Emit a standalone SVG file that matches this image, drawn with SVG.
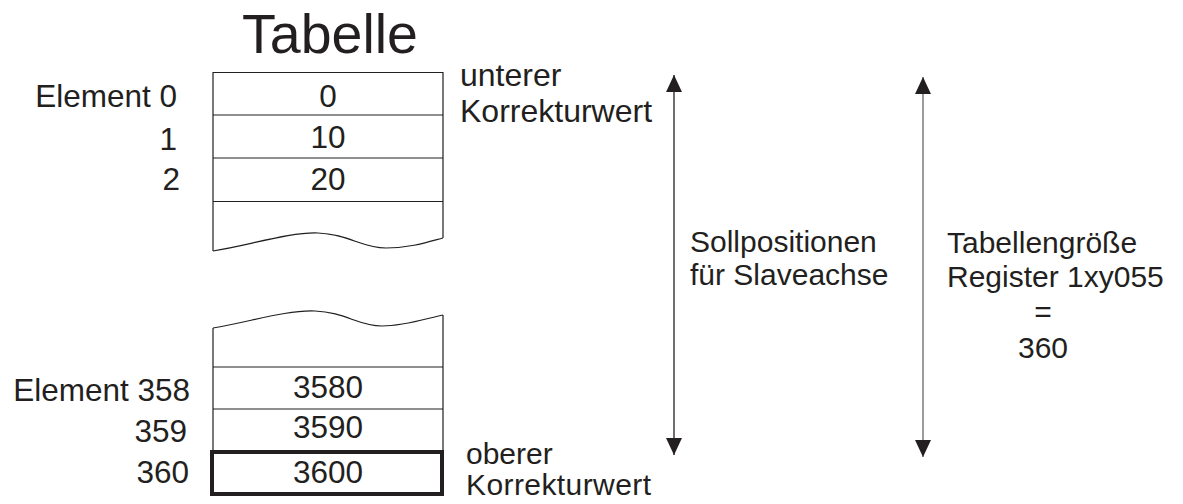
<svg xmlns="http://www.w3.org/2000/svg" width="1183" height="504" viewBox="0 0 1183 504">
<style>
text{font-family:"Liberation Sans",Arial,sans-serif;font-size:30px;fill:#231f20}
.c{text-anchor:middle}
.e{text-anchor:end}
.big{font-size:31.5px}
.kw{font-size:32px}
.kw2{font-size:30px}
.t{fill:none;stroke:#231f20;stroke-width:1.2}
.thick{fill:none;stroke:#231f20;stroke-width:4}
</style>
<defs>
<marker id="ah" viewBox="0 0 17 16" refX="17" refY="8" markerWidth="17" markerHeight="16" markerUnits="userSpaceOnUse" orient="auto-start-reverse">
<path d="M0,0 L17,8 L0,16 z" fill="#231f20"/>
</marker>
</defs>
<rect width="1183" height="504" fill="#fff"/>
<g id="title"><text x="330" y="53" class="c" style="font-size:55.5px">Tabelle</text></g>
<g id="table-top">
<path class="t" d="M213,251 L213,72.5 L443,72.5 L443,238"/>
<path class="t" d="M213,115 H443 M213,158 H443 M213,201.5 H443"/>
<path class="t" d="M213,251 C250,245 290,232 318,233 C348,234 362,248 386,248 C410,248 428,242 443,238"/>
<text x="328" y="107" class="c big">0</text>
<text x="328" y="148" class="c big">10</text>
<text x="328" y="190" class="c big">20</text>
</g>
<g id="table-bottom">
<path class="t" d="M213,328 C250,322 285,310 315,311 C345,312 358,326 382,326 C405,326 428,318 443,315"/>
<path class="t" d="M213,328 V452 M443,315 V452"/>
<path class="t" d="M213,367 H443 M213,409 H443"/>
<rect class="thick" x="212" y="452" width="230" height="42"/>
<text x="328" y="398" class="c big">3580</text>
<text x="328" y="438" class="c big">3590</text>
<text x="328" y="483" class="c big">3600</text>
</g>
<g id="labels-left">
<text x="177" y="107" class="e big">Element 0</text>
<text x="177" y="150" class="e big">1</text>
<text x="180" y="190" class="e big">2</text>
<text x="190" y="401" class="e big">Element 358</text>
<text x="187" y="442" class="e big">359</text>
<text x="189" y="483" class="e big">360</text>
</g>
<g id="label-lower">
<text x="460" y="86" class="kw">unterer</text>
<text x="460" y="122" class="kw">Korrekturwert</text>
</g>
<g id="label-upper">
<text x="466" y="464" class="kw2">oberer</text>
<text x="466" y="495" class="kw2" textLength="185">Korrekturwert</text>
</g>
<g id="label-soll">
<text x="690" y="252">Sollpositionen</text>
<text x="690" y="285">für Slaveachse</text>
</g>
<g id="label-size">
<text x="947" y="253">Tabellengröße</text>
<text x="947" y="287">Register 1xy055</text>
<text x="1043" y="322" class="c">=</text>
<text x="1043" y="358" class="c">360</text>
</g>
<g id="connectors">
<line x1="674" y1="75" x2="674" y2="455" stroke="#231f20" stroke-width="1.3" marker-start="url(#ah)" marker-end="url(#ah)"/>
<line x1="923" y1="77" x2="923" y2="457" stroke="#7a7a7a" stroke-width="1.5" marker-start="url(#ah)" marker-end="url(#ah)"/>
</g>
</svg>
